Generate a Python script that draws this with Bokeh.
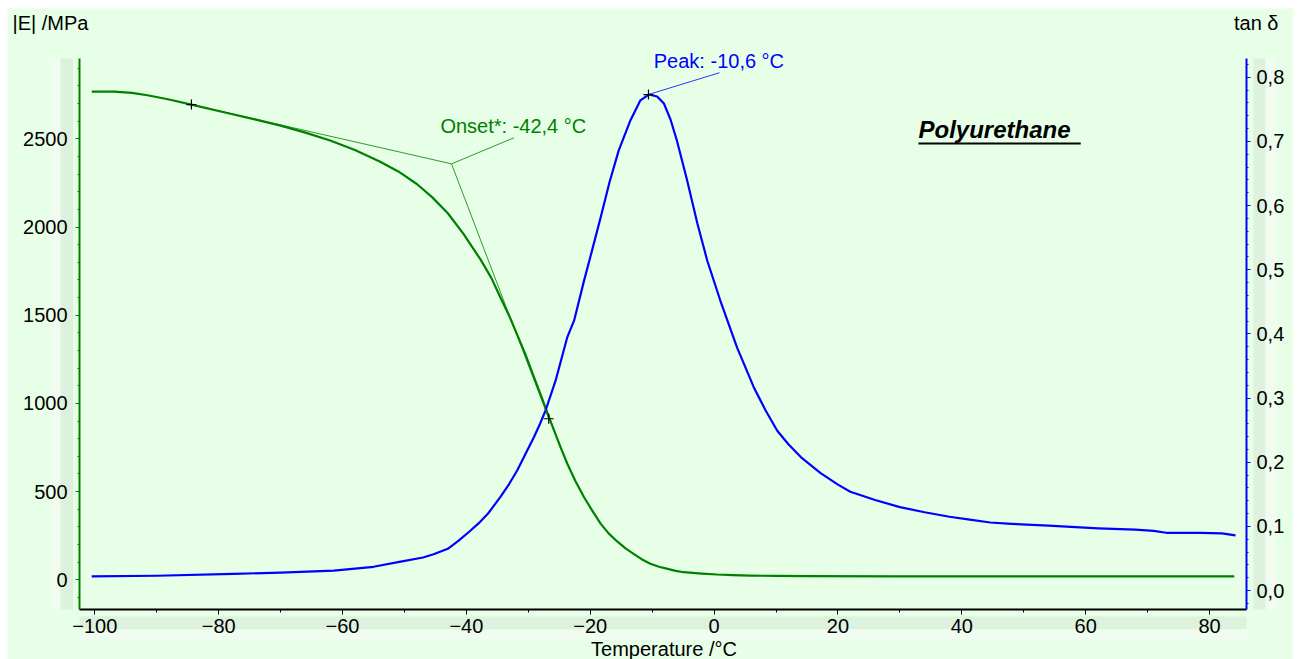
from bokeh.plotting import figure
from bokeh.models import Range1d, LinearAxis, FixedTicker, CustomJSTickFormatter, Label, BoxAnnotation
from bokeh.embed import file_html
from bokeh.resources import INLINE

# ---- data ----
temp_E = [-100.5, -96.9, -94.0, -91.5, -88.0, -84.4, -78.1, -74.0, -70.0, -66.0, -62.0, -58.0,
          -54.0, -51.0, -48.0, -45.5, -43.0, -40.5, -37.7, -36.0, -34.5, -33.0, -31.8, -30.5,
          -29.1, -27.9, -26.8, -25.8, -24.8, -23.7, -22.4, -21.0, -19.6, -18.3, -17.0, -15.6,
          -14.3, -13.0, -11.7, -10.3, -8.9, -7.5, -6.2, -4.9, -2.0, 0.5, 3.0, 5.9, 10, 15,
          30, 50, 70, 84.0]
modulus_E = [2768, 2768, 2760, 2747, 2723, 2694, 2642, 2609, 2575, 2535, 2490, 2436,
             2371, 2315, 2244, 2168, 2078, 1962, 1815, 1713, 1600, 1490, 1390, 1281,
             1150, 1040, 935, 843, 752, 658, 560, 468, 388, 317, 262, 216,
             178, 147, 117, 91, 74, 62, 51, 43, 35, 30, 27, 24, 22, 21,
             20, 20, 20, 20]

temp_tan = [-100.5, -90, -77.6, -70, -61.4, -55, -50.6, -47.0, -45.3, -43.0, -41.3, -39.5,
            -38.0, -36.5, -34.5, -33.1, -31.8, -30.2, -29.1, -28.1, -27.2, -25.6, -23.7,
            -22.6, -21.0, -19.6, -18.3, -16.9, -15.4, -13.5, -11.9, -10.55, -9.2, -8.1,
            -7.0, -6.0, -4.35, -2.7, -1.1, 1.0, 3.7, 6.4, 8.3, 10.2, 12.0, 14.0, 17.2, 20.0,
            22.0, 26.0, 30.0, 34.0, 38.0, 41.0, 44.6, 48.0, 54.0, 62.0, 68.0, 71.0, 73.0,
            78.6, 82.0, 84.2]
tan_delta = [0.022, 0.023, 0.026, 0.028, 0.031, 0.037, 0.045, 0.0515, 0.0565, 0.065, 0.0775, 0.092,
             0.105, 0.120, 0.146, 0.166, 0.187, 0.218, 0.239, 0.260, 0.281, 0.327, 0.395,
             0.421, 0.483, 0.534, 0.582, 0.636, 0.686, 0.733, 0.764, 0.773, 0.770, 0.759,
             0.733, 0.701, 0.639, 0.572, 0.514, 0.452, 0.379, 0.317, 0.281, 0.249, 0.228, 0.208,
             0.183, 0.165, 0.154, 0.141, 0.130, 0.122, 0.115, 0.111, 0.106, 0.104, 0.101,
             0.097, 0.095, 0.093, 0.090, 0.090, 0.089, 0.086]

x_ticks = [-100, -80, -60, -40, -20, 0, 20, 40, 60, 80]
x_minor = [-90, -70, -50, -30, -10, 10, 30, 50, 70]
e_ticks = [0, 500, 1000, 1500, 2000, 2500]
e_minor = [-100, 100, 200, 300, 400, 600, 700, 800, 900, 1100, 1200, 1300, 1400, 1600, 1700,
           1800, 1900, 2100, 2200, 2300, 2400, 2600, 2700, 2800, 2900]
tan_ticks = [0.0, 0.1, 0.2, 0.3, 0.4, 0.5, 0.6, 0.7, 0.8]
tan_minor = [-0.02, 0.02, 0.04, 0.06, 0.08, 0.12, 0.14, 0.16, 0.18, 0.22, 0.24, 0.26, 0.28,
             0.32, 0.34, 0.36, 0.38, 0.42, 0.44, 0.46, 0.48, 0.52, 0.54, 0.56, 0.58,
             0.62, 0.64, 0.66, 0.68, 0.72, 0.74, 0.76, 0.78, 0.82]

# evaluation results
onset_T = -42.4
onset_E = 2358
onset_marks_T = [-84.4, -26.7]
onset_marks_E = [2694, 913]
onset_tangent_T = [-84.4, onset_T, -26.7]
onset_tangent_E = [2694, onset_E, 913]
onset_leader_T = [onset_T, -32.3]
onset_leader_E = [onset_E, 2506]
peak_T = -10.6
peak_tan = 0.773
peak_leader_T = [peak_T, 0.87]
peak_leader_tan = [peak_tan, 0.807]

# axis extents (the axes are drawn at fixed positions inside a full-canvas frame)
T_MIN, T_MAX = -102.47, 85.97
E_MIN, E_MAX = -168.4, 2955
TAN_MIN, TAN_MAX = -0.0296, 0.829

BG = "#e6ffe6"
BAND_DARK = "#dcf2dc"
BAND_LIGHT = "#f0fcf0"
GREEN = "#008000"
BLUE = "#0000ff"
FONT = "Liberation Sans"

p = figure(width=1286, height=651, output_backend="svg", toolbar_location=None,
           x_range=Range1d(-114.10, 93.56), y_range=Range1d(-451.8, 3238.7),
           min_border=0, min_border_left=0, min_border_right=0, min_border_top=0, min_border_bottom=0,
           background_fill_color=BG, border_fill_color=BG, outline_line_color=None,
           margin=(8, 13, 0, 7))
p.extra_y_ranges = {"tan": Range1d(-0.1075, 0.9071)}
p.grid.visible = False

# tick-label background bands
for l, r, b, t, c in [(-107.15, -105.54, E_MIN, E_MAX, BAND_LIGHT),
                      (-105.54, -103.49, E_MIN, E_MAX, BAND_DARK),
                      (T_MIN, T_MAX, -281.8, -208.1, BAND_DARK),
                      (T_MIN, T_MAX, -338.4, -281.8, BAND_LIGHT),
                      (87.10, 89.03, E_MIN, E_MAX, BAND_DARK),
                      (89.03, 90.81, E_MIN, E_MAX, BAND_LIGHT)]:
    p.add_layout(BoxAnnotation(left=l, right=r, bottom=b, top=t, fill_color=c, fill_alpha=1,
                               line_color=None, level="underlay"))

# bottom axis
xa = p.xaxis[0]
xa.fixed_location = E_MIN
xa.bounds = (T_MIN, T_MAX)
xa.ticker = FixedTicker(ticks=x_ticks, minor_ticks=x_minor)
xa.axis_line_color = "black"
xa.axis_line_width = 2
xa.major_tick_line_color = "black"
xa.minor_tick_line_color = "black"
xa.major_tick_out = 5
xa.major_tick_in = 0
xa.minor_tick_out = 3
xa.minor_tick_in = 0
xa.major_label_standoff = 4

# left axis
ya = p.yaxis[0]
ya.fixed_location = T_MIN
ya.bounds = (E_MIN, E_MAX)
ya.ticker = FixedTicker(ticks=e_ticks, minor_ticks=e_minor)
ya.axis_line_color = GREEN
ya.axis_line_width = 2
ya.major_tick_line_color = GREEN
ya.minor_tick_line_color = GREEN
ya.major_tick_out = 4
ya.major_tick_in = 0
ya.minor_tick_out = 2
ya.minor_tick_in = 0
ya.major_label_standoff = 8

# right axis
ra = LinearAxis(y_range_name="tan", fixed_location=T_MAX, bounds=(TAN_MIN, TAN_MAX),
                ticker=FixedTicker(ticks=tan_ticks, minor_ticks=tan_minor),
                formatter=CustomJSTickFormatter(code="return tick.toFixed(1).replace('.', ',');"))
ra.axis_line_color = BLUE
ra.axis_line_width = 2
ra.major_tick_line_color = BLUE
ra.minor_tick_line_color = BLUE
ra.major_tick_out = 4
ra.major_tick_in = 0
ra.minor_tick_out = 2
ra.minor_tick_in = 0
ra.major_label_standoff = 6
p.add_layout(ra, "right")

for ax in (xa, ya, ra):
    ax.major_label_text_font = FONT
    ax.major_label_text_font_size = "20px"
    ax.major_label_text_color = "black"

# curves
p.line(temp_E, modulus_E, line_color=GREEN, line_width=2.2, line_join="round")
p.line(temp_tan, tan_delta, y_range_name="tan", line_color=BLUE, line_width=2.2, line_join="round")

# onset construction
p.line(onset_tangent_T, onset_tangent_E, line_color=GREEN, line_width=1, line_alpha=0.8)
p.line(onset_leader_T, onset_leader_E, line_color=GREEN, line_width=1, line_alpha=0.8)
p.scatter(onset_marks_T, onset_marks_E, marker="cross", size=10, line_color="black", line_width=1.2)
p.add_layout(Label(x=-44.2, y=2575, text="Onset*: -42,4 °C", text_font=FONT,
                   text_font_size="20px", text_color=GREEN, text_baseline="middle", text_align="left"))

# peak construction
p.line(peak_leader_T, peak_leader_tan, y_range_name="tan", line_color=BLUE, line_width=1, line_alpha=0.8)
p.scatter([peak_T], [peak_tan], y_range_name="tan", marker="cross", size=10, line_color="black", line_width=1.2)
p.add_layout(Label(x=-9.74, y=0.825, y_range_name="tan", text="Peak: -10,6 °C", text_font=FONT,
                   text_font_size="20px", text_color=BLUE, text_baseline="middle", text_align="left"))

# sample name (underlined)
p.add_layout(Label(x=33.0, y=2553, text="Polyurethane", text_font=FONT, text_font_size="24px",
                   text_font_style="bold italic", text_color="black", text_baseline="middle",
                   text_align="left"))
p.line([33.0, 59.2], [2473, 2473], line_color="black", line_width=2)

# axis titles
p.add_layout(Label(x=-113.29, y=3159, text="|E| /MPa", text_font=FONT,
                   text_font_size="20px", text_color="black", text_baseline="middle", text_align="left"))
p.add_layout(Label(x=91.13, y=3159, text="tan δ", text_font=FONT,
                   text_font_size="20px", text_color="black", text_baseline="middle", text_align="right"))
p.add_layout(Label(x=-8.09, y=-390.0, text="Temperature /°C", text_font=FONT,
                   text_font_size="20px", text_color="black", text_baseline="middle", text_align="center"))

open("out.html", "w").write(file_html(p, INLINE))
